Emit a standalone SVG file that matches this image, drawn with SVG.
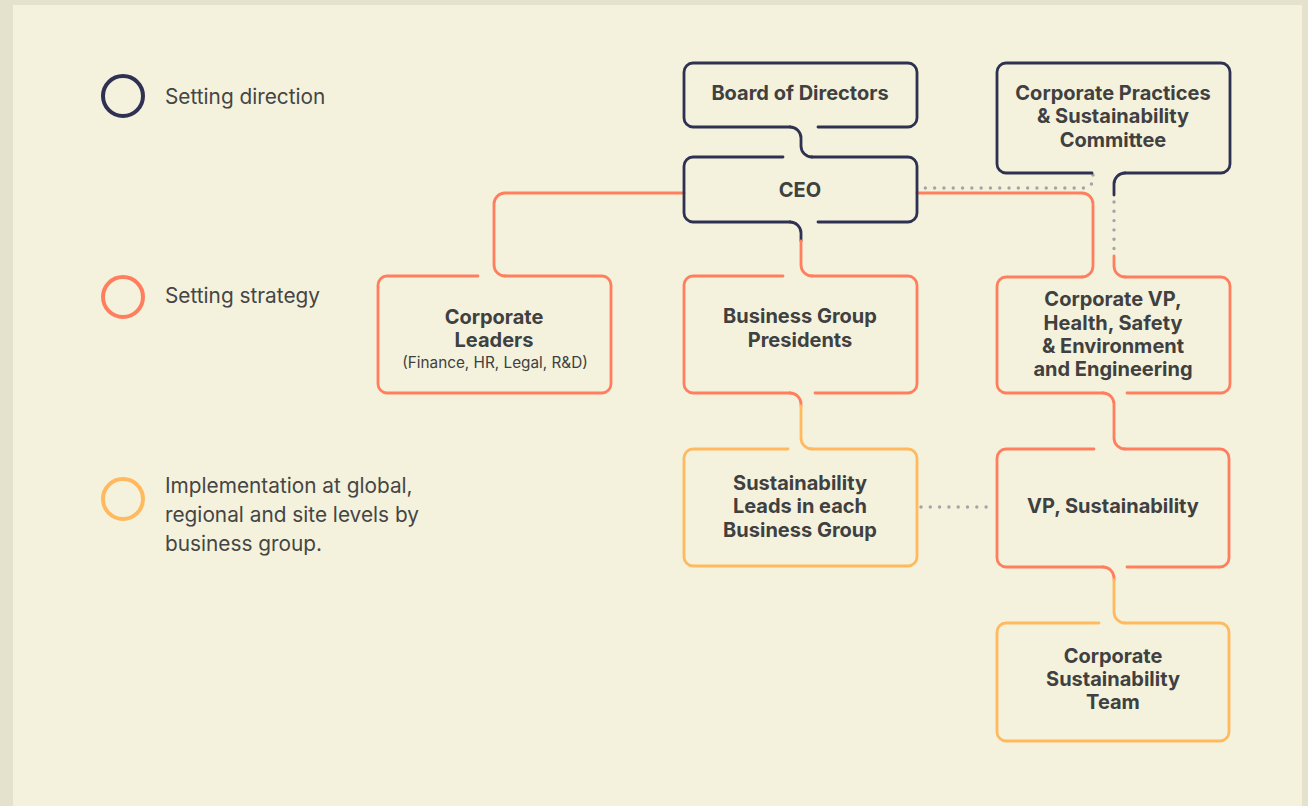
<svg xmlns="http://www.w3.org/2000/svg" width="1308" height="806" viewBox="0 0 1308 806">
<style>
.box{fill:none;stroke-width:2.8;stroke-linecap:round;stroke-linejoin:round}
.dk{stroke:#2E3151}.or{stroke:#FF7E5E}.ye{stroke:#FFB95E}
.ln{fill:none;stroke-width:2.8;stroke-linecap:round}
.dot{fill:none;stroke:#A3A3A8;stroke-width:3.4;stroke-linecap:round;stroke-dasharray:0 9.3}
.t{font-family:Inter,"Liberation Sans",sans-serif;font-weight:700;font-size:20px;fill:#404040;text-anchor:middle}
.s{font-family:Inter,"Liberation Sans",sans-serif;font-size:15.3px;fill:#404040;text-anchor:middle}
.lg{font-family:Inter,"Liberation Sans",sans-serif;font-size:20.8px;fill:#454545}
</style>
<rect width="1308" height="806" fill="#E4E2CC"/>
<rect x="13" y="5" width="1289" height="801" fill="#F4F2DC"/>

<g id="legend">
<circle cx="123" cy="96" r="20" fill="none" stroke="#2E3151" stroke-width="4"/>
<text class="lg" x="165" y="104">Setting direction</text>
<circle cx="123" cy="297" r="20" fill="none" stroke="#FF7E5E" stroke-width="4"/>
<text class="lg" x="165" y="303">Setting strategy</text>
<circle cx="123" cy="499" r="20" fill="none" stroke="#FFB95E" stroke-width="4"/>
<text class="lg" x="165" y="493">Implementation at global,</text>
<text class="lg" x="165" y="522">regional and site levels by</text>
<text class="lg" x="165" y="551">business group.</text>
</g>

<g id="connectors">
<path class="ln dk" d="M790 127 A11 11 0 0 1 801 138 V146 A11 11 0 0 0 812 157"/>
<path class="ln dk" d="M790 222 A11 11 0 0 1 801 233 V241"/>
<path class="ln or" d="M801 241 V265 A11 11 0 0 0 812 276"/>
<path class="ln or" d="M684 193 H505 A11 11 0 0 0 494 204 V265 A11 11 0 0 0 505 276"/>
<path class="ln or" d="M917 193 H1082 A11 11 0 0 1 1093 204 V266 A11 11 0 0 1 1082 277"/>
<path class="dot" d="M1093 175 V179 A9 9 0 0 1 1084 188 H918"/>
<path class="ln dk" d="M1125 173 A11 11 0 0 0 1114 184 V195"/>
<path class="dot" d="M1114 202 V249"/>
<path class="ln or" d="M1114 256 V266 A11 11 0 0 0 1125 277"/>
<path class="ln or" d="M1103 393 A11 11 0 0 1 1114 404 V438 A11 11 0 0 0 1125 449"/>
<path class="ln or" d="M790 393 A11 11 0 0 1 801 404 V406"/>
<path class="ln ye" d="M801 406 V438 A11 11 0 0 0 812 449"/>
<path class="dot" d="M921 507 H994"/>
<path class="ln or" d="M1103 567 A11 11 0 0 1 1114 578 V580"/>
<path class="ln ye" d="M1114 580 V612 A11 11 0 0 0 1125 623"/>
</g>

<g id="board">
<path class="box dk" d="M693 63 H908 A9 9 0 0 1 917 72 V118 A9 9 0 0 1 908 127 H818 M790 127 H693 A9 9 0 0 1 684 118 V72 A9 9 0 0 1 693 63"/>
<text class="t" x="800" y="100">Board of Directors</text>
</g>

<g id="cpsc">
<path class="box dk" d="M1006 63 H1221 A9 9 0 0 1 1230 72 V164 A9 9 0 0 1 1221 173 H1125 M1092 173 H1006 A9 9 0 0 1 997 164 V72 A9 9 0 0 1 1006 63"/>
<text class="t" x="1113" y="100">Corporate Practices</text>
<text class="t" x="1113" y="123">&amp; Sustainability</text>
<text class="t" x="1113" y="147">Committee</text>
</g>

<g id="ceo">
<path class="box dk" d="M812 157 H908 A9 9 0 0 1 917 166 V213 A9 9 0 0 1 908 222 H818 M790 222 H693 A9 9 0 0 1 684 213 V166 A9 9 0 0 1 693 157 H783"/>
<text class="t" x="800" y="197">CEO</text>
</g>

<g id="corporate-leaders">
<path class="box or" d="M505 276 H602 A9 9 0 0 1 611 285 V384 A9 9 0 0 1 602 393 H387 A9 9 0 0 1 378 384 V285 A9 9 0 0 1 387 276 H478"/>
<text class="t" x="494" y="324">Corporate</text>
<text class="t" x="494" y="347">Leaders</text>
<text class="s" x="495" y="368">(Finance, HR, Legal, R&amp;D)</text>
</g>

<g id="bgp">
<path class="box or" d="M812 276 H908 A9 9 0 0 1 917 285 V384 A9 9 0 0 1 908 393 H815 M790 393 H693 A9 9 0 0 1 684 384 V285 A9 9 0 0 1 693 276 H783"/>
<text class="t" x="800" y="323">Business Group</text>
<text class="t" x="800" y="347">Presidents</text>
</g>

<g id="corp-vp">
<path class="box or" d="M1125 277 H1221 A9 9 0 0 1 1230 286 V384 A9 9 0 0 1 1221 393 H1127 M1103 393 H1006 A9 9 0 0 1 997 384 V286 A9 9 0 0 1 1006 277 H1082"/>
<text class="t" x="1113" y="306">Corporate VP,</text>
<text class="t" x="1113" y="330">Health, Safety</text>
<text class="t" x="1113" y="353">&amp; Environment</text>
<text class="t" x="1113" y="376">and Engineering</text>
</g>

<g id="sust-leads">
<path class="box ye" d="M812 449 H908 A9 9 0 0 1 917 458 V557 A9 9 0 0 1 908 566 H693 A9 9 0 0 1 684 557 V458 A9 9 0 0 1 693 449 H788"/>
<text class="t" x="800" y="490">Sustainability</text>
<text class="t" x="800" y="513">Leads in each</text>
<text class="t" x="800" y="537">Business Group</text>
</g>

<g id="vp-sust">
<path class="box or" d="M1125 449 H1220 A9 9 0 0 1 1229 458 V558 A9 9 0 0 1 1220 567 H1127 M1103 567 H1006 A9 9 0 0 1 997 558 V458 A9 9 0 0 1 1006 449 H1094"/>
<text class="t" x="1113" y="513">VP, Sustainability</text>
</g>

<g id="cst">
<path class="box ye" d="M1125 623 H1220 A9 9 0 0 1 1229 632 V732 A9 9 0 0 1 1220 741 H1006 A9 9 0 0 1 997 732 V632 A9 9 0 0 1 1006 623 H1099"/>
<text class="t" x="1113" y="663">Corporate</text>
<text class="t" x="1113" y="686">Sustainability</text>
<text class="t" x="1113" y="709">Team</text>
</g>
</svg>
